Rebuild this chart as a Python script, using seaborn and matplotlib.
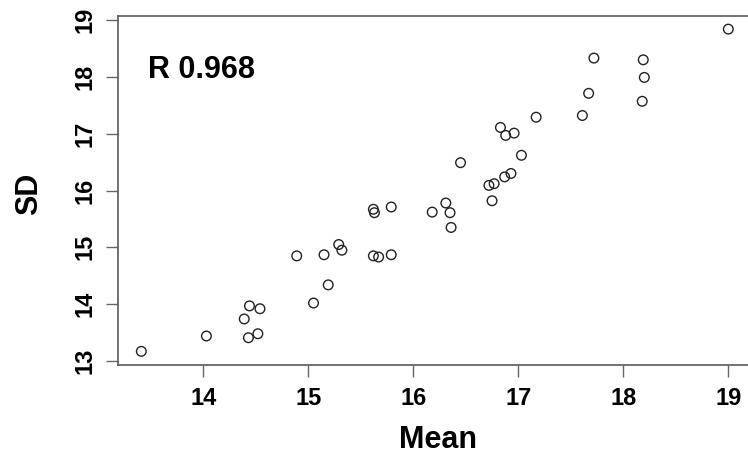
import matplotlib
matplotlib.use("Agg")
import matplotlib.pyplot as plt
import pandas as pd
import seaborn as sns

# per-sample mean and SD
mean_vals = [13.41, 14.03, 14.39, 14.44, 14.54, 14.43, 14.52, 14.89, 15.05, 15.15,
             15.19, 15.29, 15.32, 15.62, 15.63, 15.79, 15.62, 15.67, 15.79, 16.18,
             16.31, 16.35, 16.36, 16.45, 16.72, 16.77, 16.75, 16.87, 16.93, 16.83,
             16.88, 16.96, 17.03, 17.17, 17.61, 17.67, 17.72, 18.18, 18.20, 18.19,
             19.00]
sd_vals = [13.17, 13.44, 13.74, 13.97, 13.92, 13.41, 13.48, 14.85, 14.02, 14.87,
           14.34, 15.05, 14.95, 15.67, 15.61, 15.71, 14.85, 14.83, 14.87, 15.62,
           15.78, 15.61, 15.35, 16.49, 16.09, 16.12, 15.82, 16.24, 16.30, 17.11,
           16.97, 17.01, 16.62, 17.29, 17.32, 17.71, 18.33, 17.57, 17.99, 18.30,
           18.84]
r_label = "R 0.968"
x_ticks = [14, 15, 16, 17, 18, 19]
y_ticks = [13, 14, 15, 16, 17, 18, 19]

df = pd.DataFrame({"Mean": mean_vals, "SD": sd_vals})

sns.set_theme(style="white")
plt.rcParams["font.family"] = ["Liberation Sans", "DejaVu Sans"]
plt.rcParams["text.color"] = "black"
plt.rcParams["axes.labelcolor"] = "black"

W, H = 748, 457
fig = plt.figure(figsize=(W / 100, H / 100), dpi=100)
left, right, top, bottom = 118, 751, 15.7, 365
ax = fig.add_axes([left / W, 1 - bottom / H, (right - left) / W, (bottom - top) / H])

sns.scatterplot(data=df, x="Mean", y="SD", ax=ax, marker="o", s=48,
                facecolors="none", edgecolors="#222222", linewidths=1.0)

ax.set_xlim(13.188, 19.216)
ax.set_ylim(12.93, 19.076)
ax.set_xticks(x_ticks)
ax.set_yticks(y_ticks)
ax.set_xticklabels([str(t) for t in x_ticks], fontsize=17, fontweight="bold")
ax.set_yticklabels([str(t) for t in y_ticks], fontsize=17, fontweight="bold",
                   rotation=90, va="center")
ax.tick_params(axis="both", direction="out", length=8.5, width=1.0,
               color="#666666", labelcolor="black", pad=7, bottom=True, left=True)

for s in ax.spines.values():
    s.set_color("#5a5a5a")
    s.set_linewidth(1.2)

ax.set_xlabel("Mean", fontsize=22, fontweight="bold", va="center")
ax.xaxis.set_label_coords(0.5055, -0.215)
ax.set_ylabel("SD", fontsize=22, fontweight="bold", va="center")
ax.yaxis.set_label_coords(-0.141, 0.49)

ax.text(13.473, 17.98, r_label, fontsize=22, fontweight="bold",
        ha="left", va="baseline")

fig.savefig("out.png", dpi=100)
